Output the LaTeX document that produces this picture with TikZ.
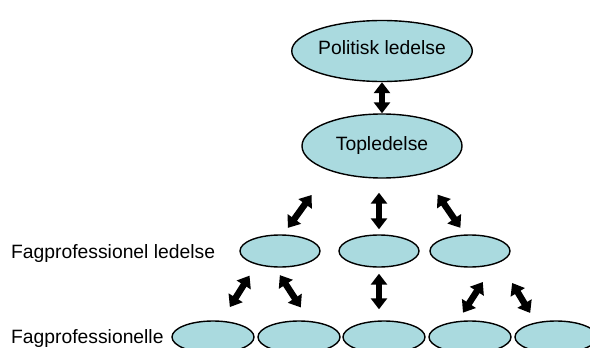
\documentclass[tikz,border=0pt]{standalone}
\usepackage{fontspec}
\setmainfont{Liberation Sans}
\usetikzlibrary{shapes.geometric,arrows.meta}
\definecolor{lysblaa}{RGB}{170,218,223}

\begin{document}
\begin{tikzpicture}[x=1pt,y=-1pt,
    boble/.style={shape=ellipse,draw=black,line width=1.4pt,fill=lysblaa,inner sep=0pt},
    pil/.style={line width=6.5pt,{Triangle[length=11pt,width=16pt]}-{Triangle[length=11pt,width=16pt]}},
    tekst/.style={font=\fontsize{19.3}{22}\selectfont}]
    \useasboundingbox (0,0) rectangle (590,348);
    \clip (0,0) rectangle (590,348);

    \node[boble,tekst,minimum width=160pt,minimum height=61pt] (P) at (382,51) {\raisebox{6pt}{Politisk ledelse}};
    \node[boble,tekst,minimum width=160pt,minimum height=64pt] (T) at (382,146) {\raisebox{-4pt}{Topledelse}};

    \node[boble,minimum width=80pt,minimum height=32pt] (M1) at (280,251) {};
    \node[boble,minimum width=80pt,minimum height=32pt] (M2) at (379,251) {};
    \node[boble,minimum width=80pt,minimum height=32pt] (M3) at (470,251) {};

    \node[boble,minimum width=82pt,minimum height=32pt] (B1) at (213,337) {};
    \node[boble,minimum width=82pt,minimum height=32pt] (B2) at (299,337) {};
    \node[boble,minimum width=82pt,minimum height=32pt] (B3) at (384,337) {};
    \node[boble,minimum width=82pt,minimum height=32pt] (B4) at (470,337) {};
    \node[boble,minimum width=82pt,minimum height=32pt] (B5) at (556,337) {};

    \node[tekst,anchor=base west,inner sep=0pt] (L1) at (11,258) {Fagprofessionel ledelse};
    \node[tekst,anchor=base west,inner sep=0pt] (L2) at (11,343) {Fagprofessionelle};

    \draw[pil] (P.south) -- (T.north);
    \draw[pil,shorten <=30pt,shorten >=8pt] (T.205) -- (M1.79);
    \draw[pil,shorten <=14pt,shorten >=5pt] (T.south -| M2.north) -- (M2.north);
    \draw[pil,shorten <=25pt,shorten >=8pt] (T.326) -- (M3.107);

    \draw[pil,shorten <=13pt,shorten >=16pt] (M1.210) -- (B1.63);
    \draw[pil,shorten <=9pt,shorten >=16pt] (M1.253) -- (B2.57);
    \draw[pil,shorten <=6pt,shorten >=11pt] (M2.south) -- (M2.south |- B3.north);
    \draw[pil,shorten <=21pt,shorten >=10pt] (M3.331) -- (B4.128);
    \draw[pil,shorten <=24pt,shorten >=11pt] (M3.339) -- (B5.144);
\end{tikzpicture}
\end{document}
